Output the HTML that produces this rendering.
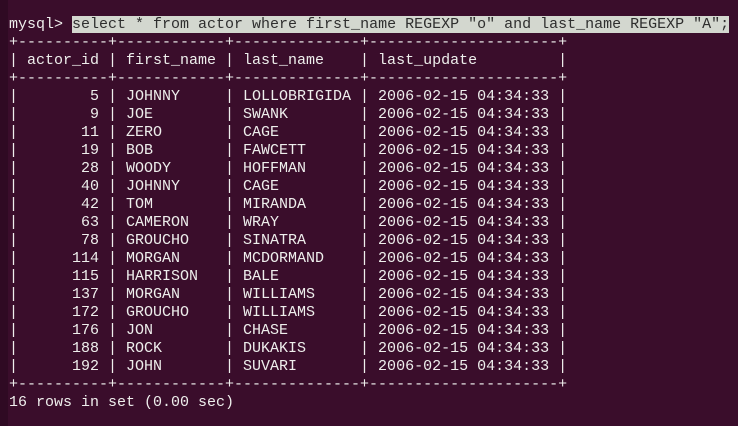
<!DOCTYPE html>
<html><head><meta charset="utf-8"><style>
html,body{margin:0;padding:0;width:738px;height:426px;overflow:hidden;background:#3a0d2b;}
#strip{position:absolute;left:0;top:0;width:8px;height:426px;background:#2f0a23;}
#term{position:absolute;left:9px;top:16px;margin:0;font-family:"Liberation Mono",monospace;font-size:15px;line-height:18px;color:#eeeeec;white-space:pre;}
.sel{background:#d3d7cf;color:#2e2e2e;}
</style></head><body>
<div id="strip"></div>
<pre id="term"><span>mysql&gt; </span><span class="sel">select * from actor where first_name REGEXP "o" and last_name REGEXP "A";</span>
<span>+----------+------------+--------------+---------------------+
| actor_id | first_name | last_name    | last_update         |
+----------+------------+--------------+---------------------+
|        5 | JOHNNY     | LOLLOBRIGIDA | 2006-02-15 04:34:33 |
|        9 | JOE        | SWANK        | 2006-02-15 04:34:33 |
|       11 | ZERO       | CAGE         | 2006-02-15 04:34:33 |
|       19 | BOB        | FAWCETT      | 2006-02-15 04:34:33 |
|       28 | WOODY      | HOFFMAN      | 2006-02-15 04:34:33 |
|       40 | JOHNNY     | CAGE         | 2006-02-15 04:34:33 |
|       42 | TOM        | MIRANDA      | 2006-02-15 04:34:33 |
|       63 | CAMERON    | WRAY         | 2006-02-15 04:34:33 |
|       78 | GROUCHO    | SINATRA      | 2006-02-15 04:34:33 |
|      114 | MORGAN     | MCDORMAND    | 2006-02-15 04:34:33 |
|      115 | HARRISON   | BALE         | 2006-02-15 04:34:33 |
|      137 | MORGAN     | WILLIAMS     | 2006-02-15 04:34:33 |
|      172 | GROUCHO    | WILLIAMS     | 2006-02-15 04:34:33 |
|      176 | JON        | CHASE        | 2006-02-15 04:34:33 |
|      188 | ROCK       | DUKAKIS      | 2006-02-15 04:34:33 |
|      192 | JOHN       | SUVARI       | 2006-02-15 04:34:33 |
+----------+------------+--------------+---------------------+</span>
<span>16 rows in set (0.00 sec)</span></pre>
</body></html>
